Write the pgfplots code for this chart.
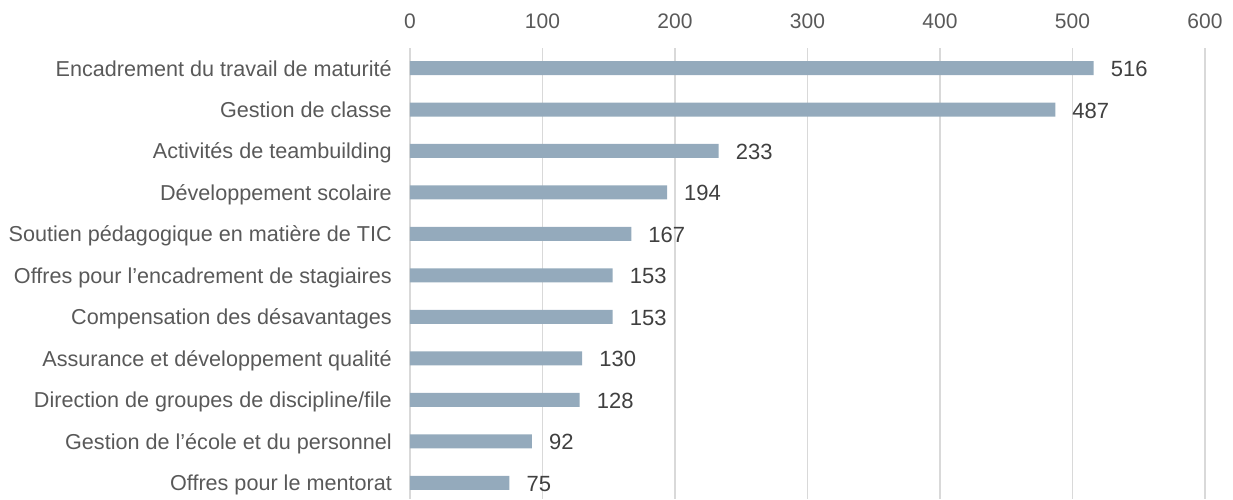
\documentclass[border=0pt]{standalone}
\usepackage{fontspec}
\setmainfont{Liberation Sans}
\usepackage{pgfplots}
\pgfplotsset{compat=1.18}
\definecolor{barc}{HTML}{94AABC}
\definecolor{gridc}{HTML}{D9D9D9}
\definecolor{labc}{HTML}{595959}
\definecolor{valc}{HTML}{404040}
\begin{document}
\begin{tikzpicture}
\begin{axis}[
  at={(0,0)}, anchor=south west,
  scale only axis, width=795bp, height=451bp,
  xbar, bar width=14bp,
  y dir=reverse,
  xmin=0, xmax=600, ymin=-0.482, ymax=10.386,
  xtick={0,100,...,600},
  xticklabel pos=upper,
  ytick={0,...,10},
  yticklabels={Encadrement du travail de maturité,Gestion de classe,Activités de teambuilding,Développement scolaire,Soutien pédagogique en matière de TIC,Offres pour l’encadrement de stagiaires,Compensation des désavantages,Assurance et développement qualité,Direction de groupes de discipline/file,Gestion de l’école et du personnel,Offres pour le mentorat},
  axis line style={draw=none},
  major tick length=0pt,
  xmajorgrids, grid style={gridc, line width=1.5bp},
  /pgf/number format/assume math mode=true,
  x tick label style={font=\fontsize{21bp}{25bp}\selectfont, text=labc, anchor=base, inner sep=0pt, yshift=20bp},
  y tick label style={font=\fontsize{21.6bp}{26bp}\selectfont, text=labc, anchor=base east, inner sep=0pt, xshift=-18bp, yshift=-8bp},
  nodes near coords,
  nodes near coords style={font=\fontsize{22bp}{26bp}\selectfont, text=valc, anchor=base west, inner sep=0pt, xshift=17bp, yshift=-8.5bp},
  clip=false,
]
\addplot[fill=barc, draw=none] coordinates {
  (516,0) (487,1) (233,2) (194,3) (167,4) (153,5) (153,6) (130,7) (128,8) (92,9) (75,10)
};
\end{axis}
\path[use as bounding box] (-410bp,0bp) rectangle (823bp,499bp);
\end{tikzpicture}
\end{document}
